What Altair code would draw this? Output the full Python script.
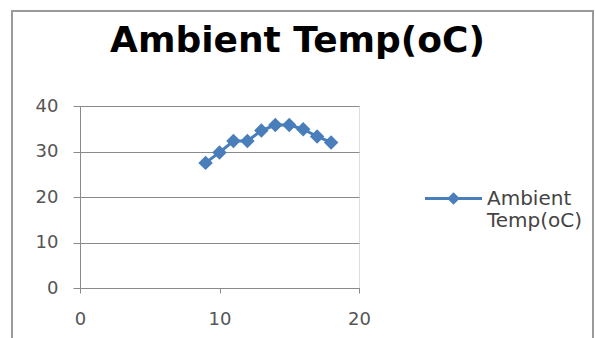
import altair as alt
import pandas as pd

hours = [9, 10, 11, 12, 13, 14, 15, 16, 17, 18]
temps = [27.5, 29.8, 32.3, 32.3, 34.6, 35.8, 35.8, 34.9, 33.3, 32.0]
series_name = "Ambient Temp(oC)"

df = pd.DataFrame({"hour": hours, "temp": temps, "series": [series_name] * len(hours)})

BLUE = "#4A7EBB"
GRID = "#8a8a8a"
LABEL = "#555555"

x_enc = alt.X("hour:Q", scale=alt.Scale(domain=[0, 20], nice=False),
              axis=alt.Axis(values=[0, 10, 20], title=None, grid=False, domain=True,
                            domainColor=GRID, tickColor=GRID, tickSize=5, labelFlush=False,
                            labelPadding=17, labelFont="DejaVu Sans", labelFontSize=18,
                            labelColor=LABEL))
y_enc = alt.Y("temp:Q", scale=alt.Scale(domain=[0, 40], nice=False),
              axis=alt.Axis(values=[0, 10, 20, 30, 40], title=None, grid=True,
                            gridColor=GRID, domainColor=GRID, tickColor=GRID, tickSize=7,
                            labelFlush=False,
                            labelPadding=15, labelFont="DejaVu Sans", labelFontSize=18,
                            labelColor=LABEL))

base = alt.Chart(df)

line = base.mark_line(color=BLUE, strokeWidth=3).encode(x=x_enc, y=y_enc)

points = base.mark_point(shape="diamond", filled=True, size=210, opacity=1).encode(
    x=x_enc, y=y_enc,
    color=alt.Color("series:N", scale=alt.Scale(range=[BLUE]),
                    legend=alt.Legend(title=None, orient="none", legendX=345, legendY=64,
                                      symbolType="M-1,-0.05H1V0.05H-1Z M0,-0.22L0.22,0L0,0.22L-0.22,0Z",
                                      symbolSize=3249, symbolStrokeWidth=0,
                                      labelExpr="['Ambient', 'Temp(oC)']",
                                      labelFont="DejaVu Sans", labelFontSize=20,
                                      labelColor="#444444", labelOffset=5, labelLimit=0,
                                      padding=0)),
)

frame = alt.Chart(pd.DataFrame({"a": [0]})).mark_rect(
    fillOpacity=0, stroke="#9a9a9a", strokeWidth=2
).encode(x=alt.value(-68), x2=alt.value(513), y=alt.value(-95), y2=alt.value(260))

chart = alt.layer(frame, line, points).properties(
    width=279, height=182,
    title=alt.Title(series_name, font="DejaVu Sans", fontSize=36, fontWeight="bold",
                    color="#000000", anchor="middle", frame="group", baseline="alphabetic",
                    dx=78, dy=132, offset=54),
    autosize=alt.AutoSizeParams(type="none"),
    padding={"left": 80, "top": 106, "right": 236, "bottom": 50},
).configure_view(stroke=None).configure(background="white")

chart.save("out.html", embed_options={"renderer": "svg", "actions": False})
